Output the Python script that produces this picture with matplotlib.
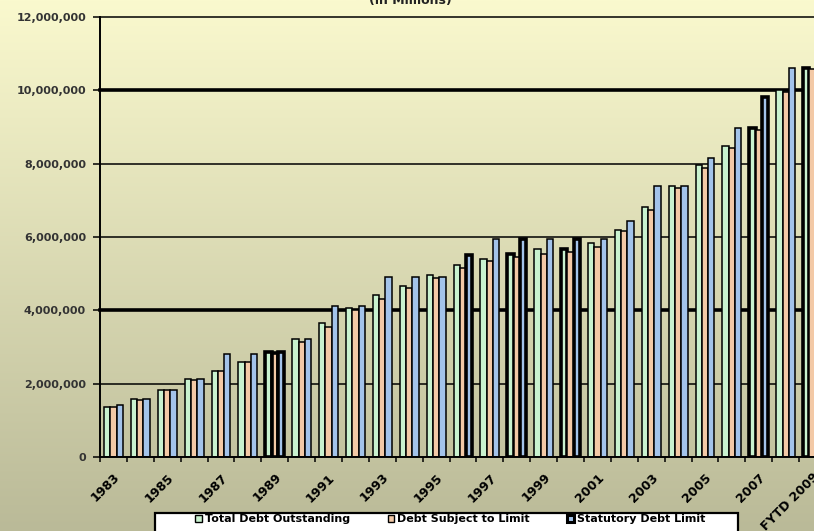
import numpy as np
import matplotlib
matplotlib.use('Agg')
import matplotlib.pyplot as plt
from matplotlib.patches import Patch, Rectangle
from matplotlib.ticker import FuncFormatter

# fiscal years, one cluster of three bars each (values in millions of dollars)
years = ['1983', '1984', '1985', '1986', '1987', '1988', '1989', '1990', '1991',
         '1992', '1993', '1994', '1995', '1996', '1997', '1998', '1999', '2000',
         '2001', '2002', '2003', '2004', '2005', '2006', '2007', '2008', 'FYTD 2009']
total_debt = [1377000, 1572000, 1823000, 2125000, 2350000, 2602000, 2868000,
              3220000, 3650000, 4070000, 4410000, 4670000, 4960000, 5240000,
              5410000, 5550000, 5660000, 5665000, 5830000, 6200000, 6810000,
              7400000, 7960000, 8490000, 8980000, 10010000, 10620000]
subject_to_limit = [1365000, 1565000, 1815000, 2110000, 2340000, 2585000, 2850000,
                    3140000, 3550000, 4010000, 4310000, 4600000, 4870000, 5150000,
                    5350000, 5450000, 5550000, 5600000, 5720000, 6170000, 6750000,
                    7350000, 7890000, 8420000, 8920000, 9960000, 10580000]
statutory_limit = [1410000, 1580000, 1830000, 2130000, 2800000, 2800000, 2870000,
                   3220000, 4120000, 4120000, 4900000, 4900000, 4900000, 5510000,
                   5950000, 5950000, 5950000, 5950000, 5950000, 6430000, 7400000,
                   7400000, 8160000, 8980000, 9810000, 10620000, 11315000]
series_names = ['Total Debt Outstanding', 'Debt Subject to Limit', 'Statutory Debt Limit']
label_every = 2

colors = ['#c9f2cf', '#f3c9a6', '#a3c3ea']
# bars that come out with a heavy dark outline
heavy = [{6, 15, 17, 24, 26}, {6}, {6, 13, 15, 17, 24}]

W, H = 814, 531
fig = plt.figure(figsize=(W / 100, H / 100), dpi=100)

# yellow-to-khaki backdrop behind everything
bg = fig.add_axes([0, 0, 1, 1], zorder=-5)
top = np.array([250, 249, 206]) / 255
bot = np.array([186, 186, 152]) / 255
t = np.linspace(0, 1, 256)[:, None]
grad = (top[None, :] * (1 - t) + bot[None, :] * t)[:, None, :]
bg.imshow(grad, aspect='auto', extent=[0, 1, 0, 1])
bg.axis('off')

ax = fig.add_axes([100 / W, 74 / H, 726 / W, 440 / H])
ax.patch.set_alpha(0)

n = len(years)
x = np.arange(n)
bw = 0.235
for k, vals in enumerate([total_debt, subject_to_limit, statutory_limit]):
    lws = [2.6 if i in heavy[k] else 1.1 for i in range(n)]
    ax.bar(x + (k - 1) * bw, vals, width=bw, color=colors[k], edgecolor='black',
           linewidth=lws, zorder=3)

ax.set_xlim(-0.5, n - 0.5)
ax.set_ylim(0, 12000000)

for yv in range(2000000, 12000001, 2000000):
    lw = 2.6 if yv in (4000000, 10000000) else 1.1
    ax.axhline(yv, color='black', lw=lw, zorder=1, clip_on=False)

for s in ['top', 'right']:
    ax.spines[s].set_visible(False)
for s in ['left', 'bottom']:
    ax.spines[s].set_linewidth(1.4)
    ax.spines[s].set_zorder(4)

ax.set_yticks(range(0, 12000001, 2000000))
ax.yaxis.set_major_formatter(FuncFormatter(lambda v, p: f'{v:,.0f}'))
ax.tick_params(axis='y', length=5, width=1.1, pad=5, labelsize=8, labelcolor='#333333')
for lab in ax.get_yticklabels():
    lab.set_fontweight('bold')

ax.set_xticks(np.arange(-0.5, n, 1))
ax.set_xticklabels([])
ax.tick_params(axis='x', which='major', length=3.5, width=1.1)
ax.set_xticks(x[::label_every], minor=True)
ax.set_xticklabels(years[::label_every], minor=True, rotation=45, ha='right',
                   rotation_mode='anchor', fontsize=9, fontweight='bold')
ax.tick_params(axis='x', which='minor', length=0, pad=10)

fig.text(410 / W, 1 - 4 / H, '(in Millions)', ha='center', va='baseline',
         fontsize=9, fontweight='bold', color='#222222')

# legend box, running off the bottom edge
fig.patches.append(Rectangle((155 / W, -20 / H), 583 / W, 38 / H,
                             transform=fig.transFigure, facecolor='white',
                             edgecolor='black', linewidth=1.6, zorder=5))
handles = [Patch(facecolor=c, edgecolor='black', linewidth=1.0) for c in colors]
handles[2].set_linewidth(2.2)
leg = fig.legend(handles, series_names, loc='upper left', ncol=3,
                 bbox_to_anchor=(193 / W, 19 / H), borderaxespad=0, frameon=False,
                 handlelength=0.6, handleheight=0.6, handletextpad=0.25,
                 columnspacing=3.4, prop={'size': 8, 'weight': 'bold'}, borderpad=0.2)
leg.set_zorder(6)

fig.savefig('out.png', dpi=100)
